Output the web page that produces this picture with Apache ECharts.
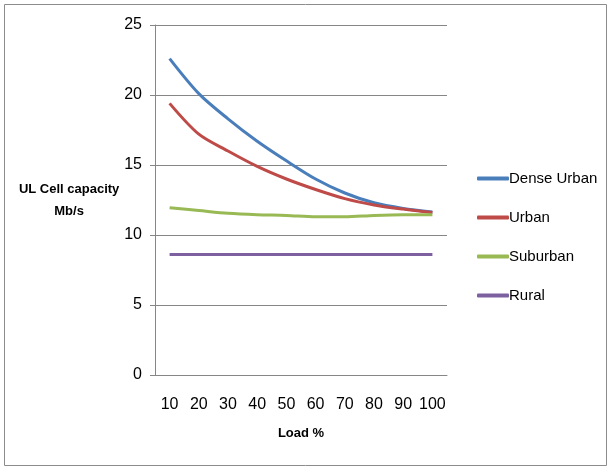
<!DOCTYPE html>
<html>
<head>
<meta charset="utf-8">
<script src="https://cdn.jsdelivr.net/npm/echarts@6/dist/echarts.min.js"></script>
<style>
  body { margin: 0; background: #fff; }
  #main { width: 612px; height: 470px; }
</style>
</head>
<body>
<div id="main"></div>
<script>
// load categories (x axis)
var loads = ['10', '20', '30', '40', '50', '60', '70', '80', '90', '100'];
// UL cell capacity, Mb/s
var denseUrban = [22.6, 20.1, 18.3, 16.7, 15.3, 14.0, 13.0, 12.3, 11.9, 11.65];
var urban      = [19.4, 17.2, 16.0, 14.9, 14.0, 13.25, 12.6, 12.15, 11.85, 11.6];
var suburban   = [11.95, 11.75, 11.55, 11.45, 11.4, 11.3, 11.3, 11.4, 11.45, 11.45];
var rural      = [8.6, 8.6, 8.6, 8.6, 8.6, 8.6, 8.6, 8.6, 8.6, 8.6];

var font = 'Liberation Sans';
var myChart = echarts.init(document.getElementById('main'));

function line(name, data, color) {
    return {
        name: name,
        type: 'line',
        data: data,
        smooth: 0.3,
        showSymbol: false,
        symbol: 'none',
        lineStyle: { color: color, width: 3 },
        itemStyle: { color: color }
    };
}

myChart.setOption({
    animation: false,
    textStyle: { fontFamily: font, color: '#000' },
    graphic: [{
        type: 'rect',
        shape: { x: 4.5, y: 4.5, width: 602, height: 461 },
        style: { fill: 'none', stroke: '#8c8c8c', lineWidth: 1 },
        silent: true
    }],
    grid: { left: 155, right: 165, top: 25, bottom: 95 },
    legend: {
        orient: 'vertical',
        left: 472,
        top: 166,
        itemGap: 24,
        itemWidth: 32,
        itemHeight: 4,
        icon: 'roundRect',
        textStyle: { fontFamily: font, fontSize: 15, color: '#000', padding: [0, 0, 0, -5] },
        data: ['Dense Urban', 'Urban', 'Suburban', 'Rural']
    },
    xAxis: {
        type: 'category',
        data: loads,
        boundaryGap: true,
        name: 'Load %',
        nameLocation: 'middle',
        nameGap: 52,
        nameTextStyle: { fontFamily: font, fontSize: 13, fontWeight: 'bold', color: '#000' },
        axisLine: { lineStyle: { color: '#868686' } },
        axisTick: { length: 6, lineStyle: { color: '#868686' } },
        axisLabel: { interval: 0, fontFamily: font, fontSize: 16, color: '#000', margin: 22 }
    },
    yAxis: {
        type: 'value',
        min: 0,
        max: 25,
        interval: 5,
        name: 'UL Cell capacity\nMb/s',
        nameLocation: 'middle',
        nameRotate: 0,
        nameGap: 75,
        nameTextStyle: { fontFamily: font, fontSize: 13, fontWeight: 'bold', color: '#000', align: 'center', lineHeight: 22 },
        axisLine: { show: true, lineStyle: { color: '#868686' } },
        axisTick: { show: true, length: 5, lineStyle: { color: '#868686' } },
        axisLabel: { fontFamily: font, fontSize: 16, color: '#000', margin: 13 },
        splitLine: { lineStyle: { color: '#868686', width: 1 } }
    },
    series: [
        line('Dense Urban', denseUrban, '#4a7ebb'),
        line('Urban', urban, '#be4b48'),
        line('Suburban', suburban, '#98b954'),
        line('Rural', rural, '#7d60a0')
    ]
});
</script>
</body>
</html>
